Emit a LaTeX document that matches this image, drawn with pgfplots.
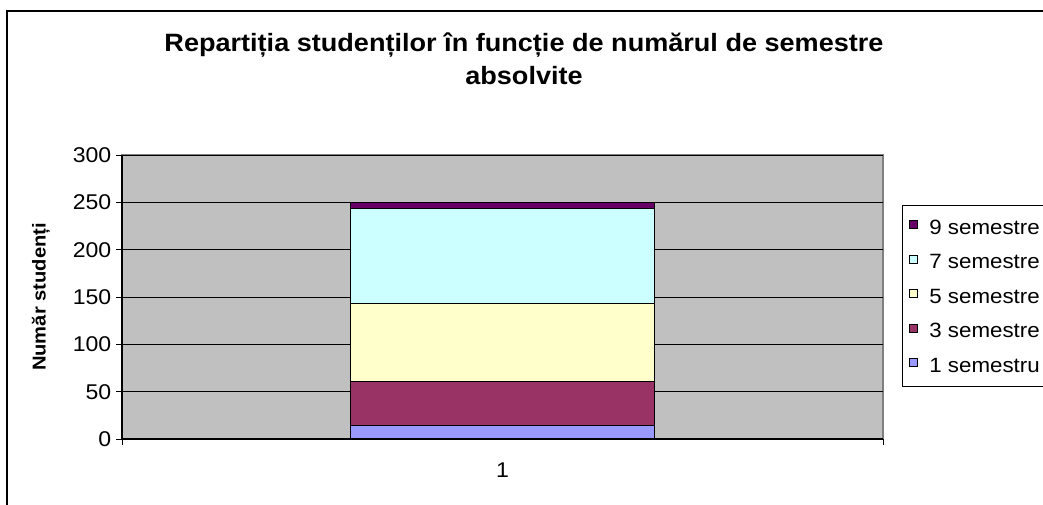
\documentclass[border=0pt]{standalone}
\usepackage{fontspec}
\setmainfont{Liberation Sans}[FakeStretch=1.08]
\usepackage{pgfplots}
\pgfplotsset{compat=1.18}
\definecolor{semi}{HTML}{9999FF}
\definecolor{semiii}{HTML}{993366}
\definecolor{semv}{HTML}{FFFFCC}
\definecolor{semvii}{HTML}{CCFFFF}
\definecolor{semix}{HTML}{660066}
\definecolor{plotgray}{HTML}{C0C0C0}
\definecolor{edgegray}{HTML}{808080}
\begin{document}
\begin{tikzpicture}
% chart frame (cut off at right and bottom, like the reference)
\draw[line width=1.2pt] (5.25pt,-20pt) rectangle (820pt,369.75pt);
\node[font=\fontsize{18.8}{22}\selectfont\bfseries,anchor=base] at (393pt,339pt) {Repartiția studenților în funcție de numărul de semestre};
\node[font=\fontsize{18.8}{22}\selectfont\bfseries,anchor=base] at (393pt,314.5pt) {absolvite};
\begin{axis}[
  at={(91.5pt,48.75pt)},anchor=south west,
  scale only axis,width=570.75pt,height=213pt,
  ybar stacked,bar width=0.4,
  xmin=0.5,xmax=1.5,ymin=0,ymax=300,
  ytick={0,50,...,300},
  xtick={0.5,1.5},xticklabels={1},x tick label as interval,
  xticklabel style={yshift=-10pt},
  axis lines=left,axis line style={-,black,line width=0.8pt},
  axis background/.style={fill=plotgray,draw=edgegray,line width=0.8pt},
  ymajorgrids,grid style={black,line width=0.6pt},
  tick align=outside,major tick length=4.5pt,
  tick style={black,line width=0.6pt},
  ticklabel style={font=\fontsize{16}{19}\selectfont},
  /pgf/number format/assume math mode=true,
  ylabel={Număr studenți},
  ylabel style={font=\fontsize{14}{17}\selectfont\bfseries,at={(axis description cs:-0.1064,0.5)},anchor=center},
  legend style={at={(axis description cs:1.025,0.824)},anchor=north west,draw=black,line width=0.8pt,fill=white,
    font=\fontsize{15.5}{18}\selectfont,inner xsep=4.5pt,inner ysep=9.5pt,row sep=12.9pt,column sep=9pt,
    nodes={inner sep=0pt,text height=12pt,text depth=1pt}},
  legend cell align=left,reverse legend,
  legend image code/.code={\draw[#1,line width=0.6pt] (0pt,-1.2pt) rectangle (6pt,4.8pt);},
]
\addplot[fill=semi,draw=black,line width=0.8pt] coordinates {(1,14)};
\addplot[fill=semiii,draw=black,line width=0.8pt] coordinates {(1,47)};
\addplot[fill=semv,draw=black,line width=0.8pt] coordinates {(1,82)};
\addplot[fill=semvii,draw=black,line width=0.8pt] coordinates {(1,100)};
\addplot[fill=semix,draw=black,line width=0.8pt] coordinates {(1,7)};
\legend{1 semestru,3 semestre,5 semestre,7 semestre,9 semestre}
\end{axis}
\pgfresetboundingbox
\useasboundingbox (0,0) rectangle (782.25pt,378pt);
\end{tikzpicture}
\end{document}
